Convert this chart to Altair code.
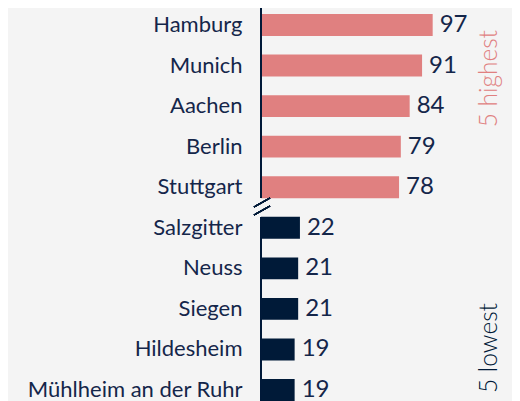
import altair as alt
import pandas as pd

cities = ["Hamburg", "Munich", "Aachen", "Berlin", "Stuttgart",
          "Salzgitter", "Neuss", "Siegen", "Hildesheim", "Mühlheim an der Ruhr"]
values = [97, 91, 84, 79, 78, 22, 21, 21, 19, 19]
groups = ["5 highest"] * 5 + ["5 lowest"] * 5
group_labels = ["5 highest", "5 lowest"]
group_anchor = ["Hamburg", "Mühlheim an der Ruhr"]

PINK = "#e08080"
NAVY = "#001a38"
TEXT = "#14264a"
BG = "#f4f4f4"
FONT = "Lato"

df = pd.DataFrame({"city": cities, "value": values, "group": groups})
hi = pd.DataFrame({"label": [group_labels[0]], "city": [group_anchor[0]]})
lo = pd.DataFrame({"label": [group_labels[1]], "city": [group_anchor[1]]})

W, H = 177, 399
yscale = alt.Scale(domain=cities, paddingInner=0.46, paddingOuter=0.149)
xscale = alt.Scale(domain=[0, 100])

bars = alt.Chart(df).mark_bar().encode(
    y=alt.Y("city:N", scale=yscale,
            axis=alt.Axis(title=None, domain=False, ticks=False, labelPadding=19,
                          labelFontSize=22, labelFont=FONT, labelColor=TEXT,
                          labelFontWeight=400, labelLimit=0)),
    x=alt.X("value:Q", scale=xscale, axis=None),
    color=alt.Color("group:N", scale=alt.Scale(domain=group_labels, range=[PINK, NAVY]),
                    legend=None),
)

vals = alt.Chart(df).mark_text(align="left", baseline="middle", dx=7, fontSize=24,
                               font=FONT, fontWeight=400, color=TEXT).encode(
    y=alt.Y("city:N", scale=yscale),
    x=alt.X("value:Q", scale=xscale),
    text="value:Q",
)

hi_txt = alt.Chart(hi).mark_text(angle=270, align="right", baseline="middle", dx=-5,
                                 fontSize=24.5, font=FONT, fontWeight=300, color=PINK).encode(
    y=alt.Y("city:N", scale=yscale), x=alt.value(229), text="label:N")

lo_txt = alt.Chart(lo).mark_text(angle=270, align="left", baseline="middle", dx=-3,
                                 fontSize=24.5, font=FONT, fontWeight=300, color=NAVY).encode(
    y=alt.Y("city:N", scale=yscale), x=alt.value(229), text="label:N")

axis_top = alt.Chart(df).mark_rule(color=NAVY, strokeWidth=1.5).encode(
    x=alt.value(0), y=alt.value(-3), y2=alt.value(190))
axis_bot = alt.Chart(df).mark_rule(color=NAVY, strokeWidth=1.5).encode(
    x=alt.value(0), y=alt.value(209), y2=alt.value(H + 5))
slash1 = alt.Chart(df).mark_rule(color=NAVY, strokeWidth=1.3).encode(
    x=alt.value(-7), x2=alt.value(9), y=alt.value(199), y2=alt.value(190))
slash2 = alt.Chart(df).mark_rule(color=NAVY, strokeWidth=1.3).encode(
    x=alt.value(-7), x2=alt.value(9), y=alt.value(207), y2=alt.value(198))

chart = alt.layer(bars, vals, hi_txt, lo_txt, axis_top, axis_bot, slash1, slash2).properties(
    width=W, height=H,
    autosize=alt.AutoSizeParams(type="none"),
    padding={"left": 253, "top": 0, "right": 74, "bottom": 0},
    background=BG,
).configure_view(stroke=None)

chart.save("out.html", embed_options={"renderer": "svg", "actions": False})
